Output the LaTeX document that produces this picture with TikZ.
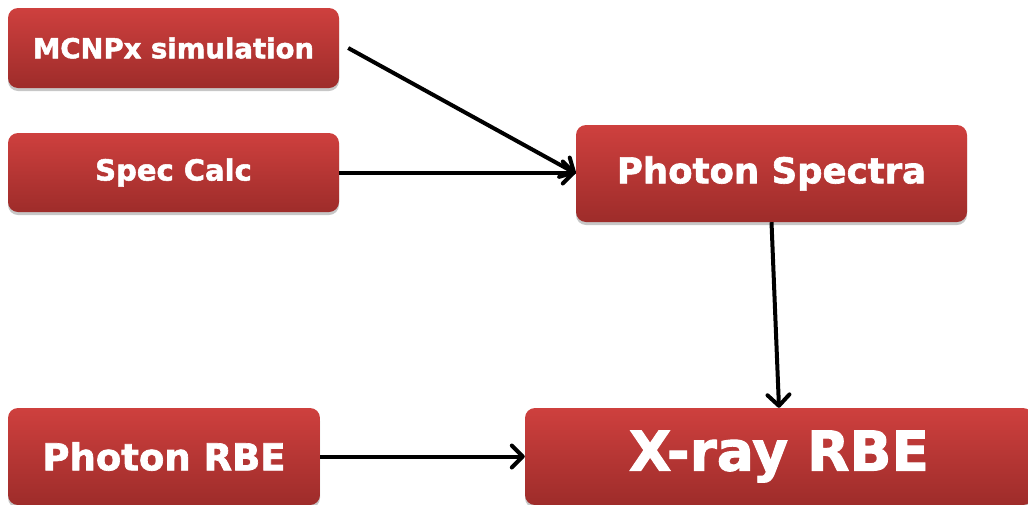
\documentclass[tikz,border=0pt]{standalone}
\usepackage{fontspec}
\newfontfamily\boxfont{DejaVu Sans}[BoldFeatures={FakeBold=1.8}]
\usetikzlibrary{arrows.meta,shadows}
\definecolor{boxtop}{RGB}{206,64,62}
\definecolor{boxbot}{RGB}{158,44,42}
\tikzset{
  redbox/.style={
    rounded corners=10pt, top color=boxtop, bottom color=boxbot,
    draw=none, text=white, inner sep=0pt, align=center,
    font=\boxfont\bfseries,
    drop shadow={shadow xshift=0pt, shadow yshift=-3pt, opacity=0.22, fill=black}
  },
  flow/.style={line width=4pt, -{Straight Barb[length=11pt,width=22pt,line width=4pt,round]}}
}
\begin{document}
\begin{tikzpicture}[x=1pt,y=-1pt]
  \useasboundingbox (0,0) rectangle (1028,504);
  % source boxes
  \node[redbox, minimum width=331pt, minimum height=80pt, font=\boxfont\bfseries\fontsize{27.5}{30}\selectfont]
    (mc) at (173.5,48) {MCNPx simulation};
  \node[redbox, minimum width=331pt, minimum height=79pt, font=\boxfont\bfseries\fontsize{29}{32}\selectfont]
    (sc) at (173.5,172.5) {Spec Calc};
  \node[redbox, minimum width=391pt, minimum height=97pt, font=\boxfont\bfseries\fontsize{35.5}{38}\selectfont]
    (ps) at (771.5,173.5) {Photon Spectra};
  \node[redbox, minimum width=312pt, minimum height=97pt, font=\boxfont\bfseries\fontsize{37}{40}\selectfont]
    (pr) at (164,456.5) {Photon RBE};
  \node[redbox, minimum width=508pt, minimum height=97pt, font=\boxfont\bfseries\fontsize{55}{60}\selectfont]
    (xr) at (779,456.5) {X-ray RBE};
  % connectors
  \coordinate (mcout) at ([xshift=9pt]mc.east);
  \draw[flow] (mcout) -- (ps.west);
  \draw[flow] (sc.east) -- (sc.east -| ps.west);
  \draw[flow] (ps.south) -- (xr.north);
  \draw[flow] (pr.east) -- (pr.east -| xr.west);
\end{tikzpicture}
\end{document}
